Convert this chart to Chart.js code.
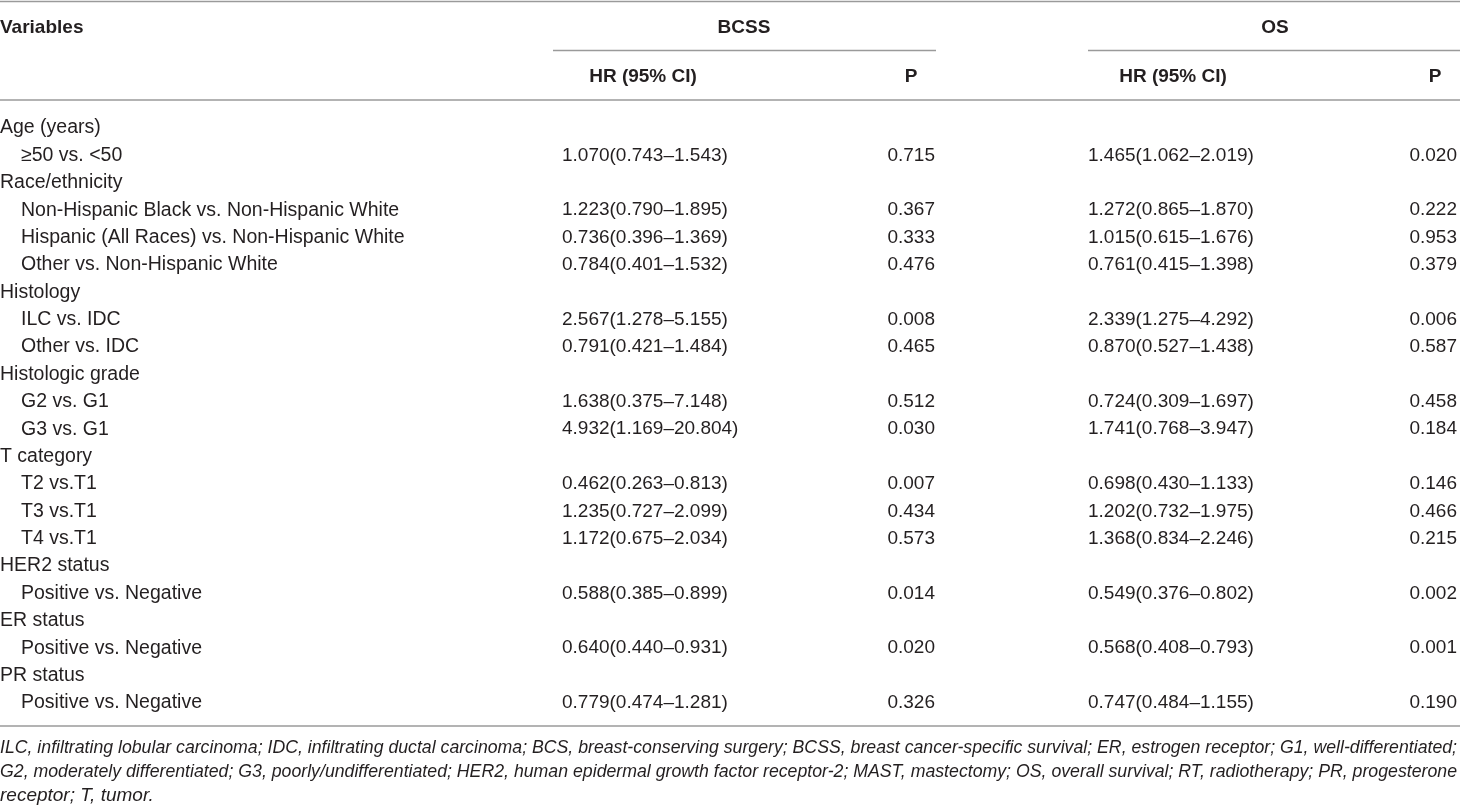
<!DOCTYPE html>
<html>
<head>
<meta charset="utf-8">
<script src="https://cdn.jsdelivr.net/npm/chart.js@4/dist/chart.umd.min.js"></script>
<style>
html,body{margin:0;padding:0;background:#fff;}
#c{display:block;}
</style>
</head>
<body>
<canvas id="c" width="1460" height="809"></canvas>
<script>
// ---------- DATA ----------
const rowLabels = ["Age (years)", "≥50 vs. <50", "Race/ethnicity",
  "Non-Hispanic Black vs. Non-Hispanic White", "Hispanic (All Races) vs. Non-Hispanic White",
  "Other vs. Non-Hispanic White", "Histology", "ILC vs. IDC", "Other vs. IDC",
  "Histologic grade", "G2 vs. G1", "G3 vs. G1", "T category", "T2 vs.T1", "T3 vs.T1",
  "T4 vs.T1", "HER2 status", "Positive vs. Negative", "ER status", "Positive vs. Negative",
  "PR status", "Positive vs. Negative"];
const rowIndent = [0,1,0,1,1,1,0,1,1,0,1,1,0,1,1,1,0,1,0,1,0,1];

const bcssHR = [null,1.070,null,1.223,0.736,0.784,null,2.567,0.791,null,1.638,4.932,null,0.462,1.235,1.172,null,0.588,null,0.640,null,0.779];
const bcssLo = [null,0.743,null,0.790,0.396,0.401,null,1.278,0.421,null,0.375,1.169,null,0.263,0.727,0.675,null,0.385,null,0.440,null,0.474];
const bcssHi = [null,1.543,null,1.895,1.369,1.532,null,5.155,1.484,null,7.148,20.804,null,0.813,2.099,2.034,null,0.899,null,0.931,null,1.281];
const bcssP  = [null,0.715,null,0.367,0.333,0.476,null,0.008,0.465,null,0.512,0.030,null,0.007,0.434,0.573,null,0.014,null,0.020,null,0.326];

const osHR = [null,1.465,null,1.272,1.015,0.761,null,2.339,0.870,null,0.724,1.741,null,0.698,1.202,1.368,null,0.549,null,0.568,null,0.747];
const osLo = [null,1.062,null,0.865,0.615,0.415,null,1.275,0.527,null,0.309,0.768,null,0.430,0.732,0.834,null,0.376,null,0.408,null,0.484];
const osHi = [null,2.019,null,1.870,1.676,1.398,null,4.292,1.438,null,1.697,3.947,null,1.133,1.975,2.246,null,0.802,null,0.793,null,1.155];
const osP  = [null,0.020,null,0.222,0.953,0.379,null,0.006,0.587,null,0.458,0.184,null,0.146,0.466,0.215,null,0.002,null,0.001,null,0.190];

const headerTop = ["Variables", "BCSS", "OS"];
const headerSub = ["HR (95% CI)", "P", "HR (95% CI)", "P"];
const footnote = [
  "ILC, infiltrating lobular carcinoma; IDC, infiltrating ductal carcinoma; BCS, breast-conserving surgery; BCSS, breast cancer-specific survival; ER, estrogen receptor; G1, well-differentiated;",
  "G2, moderately differentiated; G3, poorly/undifferentiated; HER2, human epidermal growth factor receptor-2; MAST, mastectomy; OS, overall survival; RT, radiotherapy; PR, progesterone",
  "receptor; T, tumor."
];

// ---------- LAYOUT (positions / styles) ----------
const W = 1460, H = 809;
const ROW0 = 127, ROWH = 27.38;           // first body row centre, row pitch (px)
const Y_MIN = -ROW0 / ROWH, Y_MAX = Y_MIN + H / ROWH;
const pxRow = p => (p - ROW0) / ROWH;     // convert layout pixel to row units
const COL = { label: 0, indent: 21, bcssHR: 562, bcssP: 935, osHR: 1088, osP: 1457,
              bcssHead: 744, bcssHRHead: 643, bcssPHead: 911, osHead: 1275, osHRHead: 1173, osPHead: 1435 };
const ROW_HEAD1 = pxRow(27), ROW_HEAD2 = pxRow(76);
const LINES = [
  { y: pxRow(1.5), x0: 0, x1: W },
  { y: pxRow(50.5), x0: 553, x1: 936 },
  { y: pxRow(50.5), x0: 1088, x1: W },
  { y: pxRow(100), x0: 0, x1: W },
  { y: pxRow(726), x0: 0, x1: W }
];
const FOOT_ROWS = [pxRow(747), pxRow(771), pxRow(795)];
const FOOT_RIGHT = 1457;
const TEXT = '#231f20', RULE = '#9a9a9a';
const FAM = '"Liberation Sans", Arial, sans-serif';
const FONT_L = '19.5px ' + FAM;
const FONT = '19px ' + FAM;
const FONT_B = 'bold 19px ' + FAM;
const FONT_I = 'italic 19px ' + FAM;

const fmt3 = v => v.toFixed(3);
const fmtCI = (h, l, u) => `${fmt3(h)}(${fmt3(l)}–${fmt3(u)})`;

function cellData(xPos, texts) {
  const out = [];
  texts.forEach((t, i) => { if (t !== null) out.push({ x: xPos, y: i, text: t }); });
  return out;
}

const datasets = [
  { label: 'labels', align: 'left', font: FONT_L,
    data: rowLabels.map((t, i) => ({ x: rowIndent[i] ? COL.indent : COL.label, y: i, text: t })) },
  { label: 'bcssHR', align: 'left', font: FONT,
    data: cellData(COL.bcssHR, bcssHR.map((v, i) => v === null ? null : fmtCI(v, bcssLo[i], bcssHi[i]))) },
  { label: 'bcssP', align: 'right', font: FONT,
    data: cellData(COL.bcssP, bcssP.map(v => v === null ? null : fmt3(v))) },
  { label: 'osHR', align: 'left', font: FONT,
    data: cellData(COL.osHR, osHR.map((v, i) => v === null ? null : fmtCI(v, osLo[i], osHi[i]))) },
  { label: 'osP', align: 'right', font: FONT,
    data: cellData(COL.osP, osP.map(v => v === null ? null : fmt3(v))) },
  { label: 'head1', align: 'center', font: FONT_B,
    data: [
      { x: COL.label, y: ROW_HEAD1, text: headerTop[0], align: 'left' },
      { x: COL.bcssHead, y: ROW_HEAD1, text: headerTop[1] },
      { x: COL.osHead, y: ROW_HEAD1, text: headerTop[2] }
    ] },
  { label: 'head2', align: 'center', font: FONT_B,
    data: [
      { x: COL.bcssHRHead, y: ROW_HEAD2, text: headerSub[0] },
      { x: COL.bcssPHead, y: ROW_HEAD2, text: headerSub[1] },
      { x: COL.osHRHead, y: ROW_HEAD2, text: headerSub[2] },
      { x: COL.osPHead, y: ROW_HEAD2, text: headerSub[3] }
    ] },
  { label: 'foot', align: 'left', font: FONT_I,
    data: footnote.map((t, i) => ({ x: 0, y: FOOT_ROWS[i], text: t, fit: i < footnote.length - 1 })) }
].map(ds => Object.assign(ds, { pointRadius: 0, pointHoverRadius: 0, showLine: false }));

const tablePlugin = {
  id: 'tableText',
  afterDatasetsDraw(chart) {
    const ctx = chart.ctx, xs = chart.scales.x, ys = chart.scales.y;
    ctx.save();
    // rules
    ctx.strokeStyle = RULE;
    ctx.lineWidth = 1.4;
    LINES.forEach(l => {
      const y = ys.getPixelForValue(l.y);
      ctx.beginPath();
      ctx.moveTo(xs.getPixelForValue(l.x0), y);
      ctx.lineTo(xs.getPixelForValue(l.x1), y);
      ctx.stroke();
    });
    // text
    ctx.fillStyle = TEXT;
    ctx.textBaseline = 'middle';
    chart.data.datasets.forEach((ds, di) => {
      const meta = chart.getDatasetMeta(di);
      ctx.font = ds.font;
      meta.data.forEach((el, i) => {
        const raw = ds.data[i];
        const x = el.x, y = el.y + 1;
        if (raw.fit) {
          const target = xs.getPixelForValue(FOOT_RIGHT) - x;
          const w = ctx.measureText(raw.text).width;
          const sx = target / w;
          ctx.save();
          ctx.translate(x, y);
          ctx.scale(sx, 1);
          ctx.textAlign = 'left';
          ctx.fillText(raw.text, 0, 0);
          ctx.restore();
        } else {
          ctx.textAlign = raw.align || ds.align;
          ctx.fillText(raw.text, x, y);
        }
      });
    });
    ctx.restore();
  }
};

new Chart(document.getElementById('c'), {
  type: 'scatter',
  data: { datasets },
  options: {
    responsive: false,
    animation: false,
    devicePixelRatio: 1,
    layout: { padding: 0 },
    events: [],
    plugins: { legend: { display: false }, tooltip: { enabled: false } },
    scales: {
      x: { type: 'linear', display: false, min: 0, max: W },
      y: { type: 'linear', display: false, reverse: true, min: Y_MIN, max: Y_MAX }
    }
  },
  plugins: [tablePlugin]
});
</script>
</body>
</html>
